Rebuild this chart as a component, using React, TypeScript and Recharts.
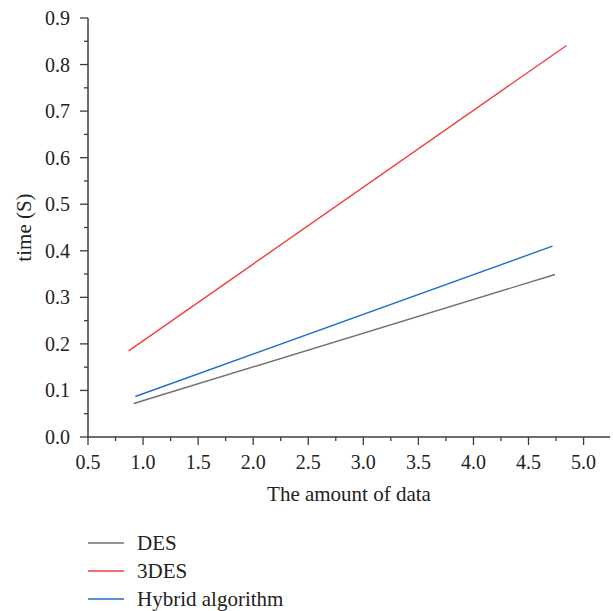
import { LineChart, Line, XAxis, YAxis } from 'recharts';

// Measured endpoints of each series (x = amount of data, y = time in seconds)
const DES_X = [0.915, 4.74];
const DES_Y = [0.072, 0.349];
const TDES_X = [0.869, 4.845];
const TDES_Y = [0.185, 0.841];
const HYBRID_X = [0.93, 4.718];
const HYBRID_Y = [0.087, 0.41];

// Major + minor ticks
const X_TICKS = [0.5, 0.75, 1.0, 1.25, 1.5, 1.75, 2.0, 2.25, 2.5, 2.75, 3.0, 3.25, 3.5, 3.75, 4.0, 4.25, 4.5, 4.75, 5.0];
const Y_TICKS = [0, 0.05, 0.1, 0.15, 0.2, 0.25, 0.3, 0.35, 0.4, 0.45, 0.5, 0.55, 0.6, 0.65, 0.7, 0.75, 0.8, 0.85, 0.9];

const SERIES = [
    { name: 'DES', xs: DES_X, ys: DES_Y, color: '#707070' },
    { name: '3DES', xs: TDES_X, ys: TDES_Y, color: '#ef3f3f' },
    { name: 'Hybrid algorithm', xs: HYBRID_X, ys: HYBRID_Y, color: '#1f6fc6' },
];

const FONT = 'Liberation Serif';
const AXIS_COLOR = '#3c3c3c';

const toPoints = (xs: number[], ys: number[]) => xs.map((x, i) => ({ x, y: ys[i] }));

const isMajor = (v: number) => Math.abs(Math.round(v * 100) % 50) === 0;
const isMajorY = (v: number) => Math.abs(Math.round(v * 100) % 10) === 0;

const XTick = ({ x, y, payload }: any) => {
    const major = isMajor(payload.value);
    return (
        <g>
            <line x1={x} y1={y} x2={x} y2={y + (major ? 8 : 4)} stroke={AXIS_COLOR} strokeWidth={1.3} />
            {major && (
                <text x={x} y={y + 25} textAnchor="middle" dominantBaseline="central" style={{ fontFamily: FONT, fontSize: 20 }} fill="#222">
                    {payload.value.toFixed(1)}
                </text>
            )}
        </g>
    );
};

const YTick = ({ x, y, payload }: any) => {
    const major = isMajorY(payload.value);
    return (
        <g>
            <line x1={x} y1={y} x2={x - (major ? 8 : 4)} y2={y} stroke={AXIS_COLOR} strokeWidth={1.3} />
            {major && (
                <text x={x - 18} y={y} textAnchor="end" dominantBaseline="central" style={{ fontFamily: FONT, fontSize: 20 }} fill="#222">
                    {payload.value.toFixed(1)}
                </text>
            )}
        </g>
    );
};

export default function App() {
    return (
        <div style={{ position: 'absolute', left: 0, top: 0, width: 613, height: 611, background: '#fff' }}>
            <LineChart width={613} height={611} margin={{ top: 18, right: 3, left: 0, bottom: 0 }}>
                <XAxis
                    xAxisId="bottom"
                    type="number"
                    dataKey="x"
                    domain={[0.5, 5.24]}
                    ticks={X_TICKS}
                    interval={0}
                    tick={<XTick />}
                    tickLine={false}
                    tickSize={0}
                    tickMargin={0}
                    height={174}
                    allowDataOverflow
                    axisLine={{ stroke: AXIS_COLOR, strokeWidth: 1.5 }}
                    label={{
                        content: ({ viewBox }: any) => (
                            <text x={viewBox.x + viewBox.width / 2} y={494} textAnchor="middle" dominantBaseline="central" style={{ fontFamily: FONT, fontSize: 21 }} fill="#222">
                                The amount of data
                            </text>
                        ),
                    }}
                />
                <XAxis xAxisId="top" orientation="top" type="number" domain={[0.5, 5.24]} tick={false} tickLine={false} height={0} axisLine={{ stroke: '#111', strokeWidth: 1.5 }} />
                <YAxis
                    yAxisId="left"
                    type="number"
                    domain={[0, 0.9]}
                    ticks={Y_TICKS}
                    interval={0}
                    tick={<YTick />}
                    tickLine={false}
                    tickSize={0}
                    tickMargin={0}
                    width={88}
                    allowDataOverflow
                    axisLine={{ stroke: AXIS_COLOR, strokeWidth: 1.5 }}
                    label={{
                        content: ({ viewBox }: any) => {
                            const cy = viewBox.y + viewBox.height / 2;
                            return (
                                <text x={24} y={cy} transform={`rotate(-90, 24, ${cy})`} textAnchor="middle" dominantBaseline="central" style={{ fontFamily: FONT, fontSize: 21 }} fill="#222">
                                    time (S)
                                </text>
                            );
                        },
                    }}
                />
                <YAxis yAxisId="right" orientation="right" type="number" domain={[0, 0.9]} tick={false} tickLine={false} width={0} axisLine={{ stroke: '#666', strokeWidth: 1.5 }} />
                {SERIES.map((s) => (
                    <Line
                        key={s.name}
                        xAxisId="bottom"
                        yAxisId="left"
                        data={toPoints(s.xs, s.ys)}
                        dataKey="y"
                        name={s.name}
                        stroke={s.color}
                        strokeWidth={1.4}
                        dot={false}
                        activeDot={false}
                        isAnimationActive={false}
                    />
                ))}
            </LineChart>
            <div style={{ position: 'absolute', left: 88, top: 529, fontFamily: FONT, fontSize: 21, color: '#222' }}>
                {SERIES.map((s) => (
                    <div key={s.name} style={{ display: 'flex', alignItems: 'center', height: 28 }}>
                        <svg width={36} height={4} style={{ marginRight: 13 }}>
                            <line x1={0} y1={2} x2={36} y2={2} stroke={s.color} strokeWidth={1.4} />
                        </svg>
                        <span style={{ lineHeight: '28px' }}>{s.name}</span>
                    </div>
                ))}
            </div>
        </div>
    );
}
